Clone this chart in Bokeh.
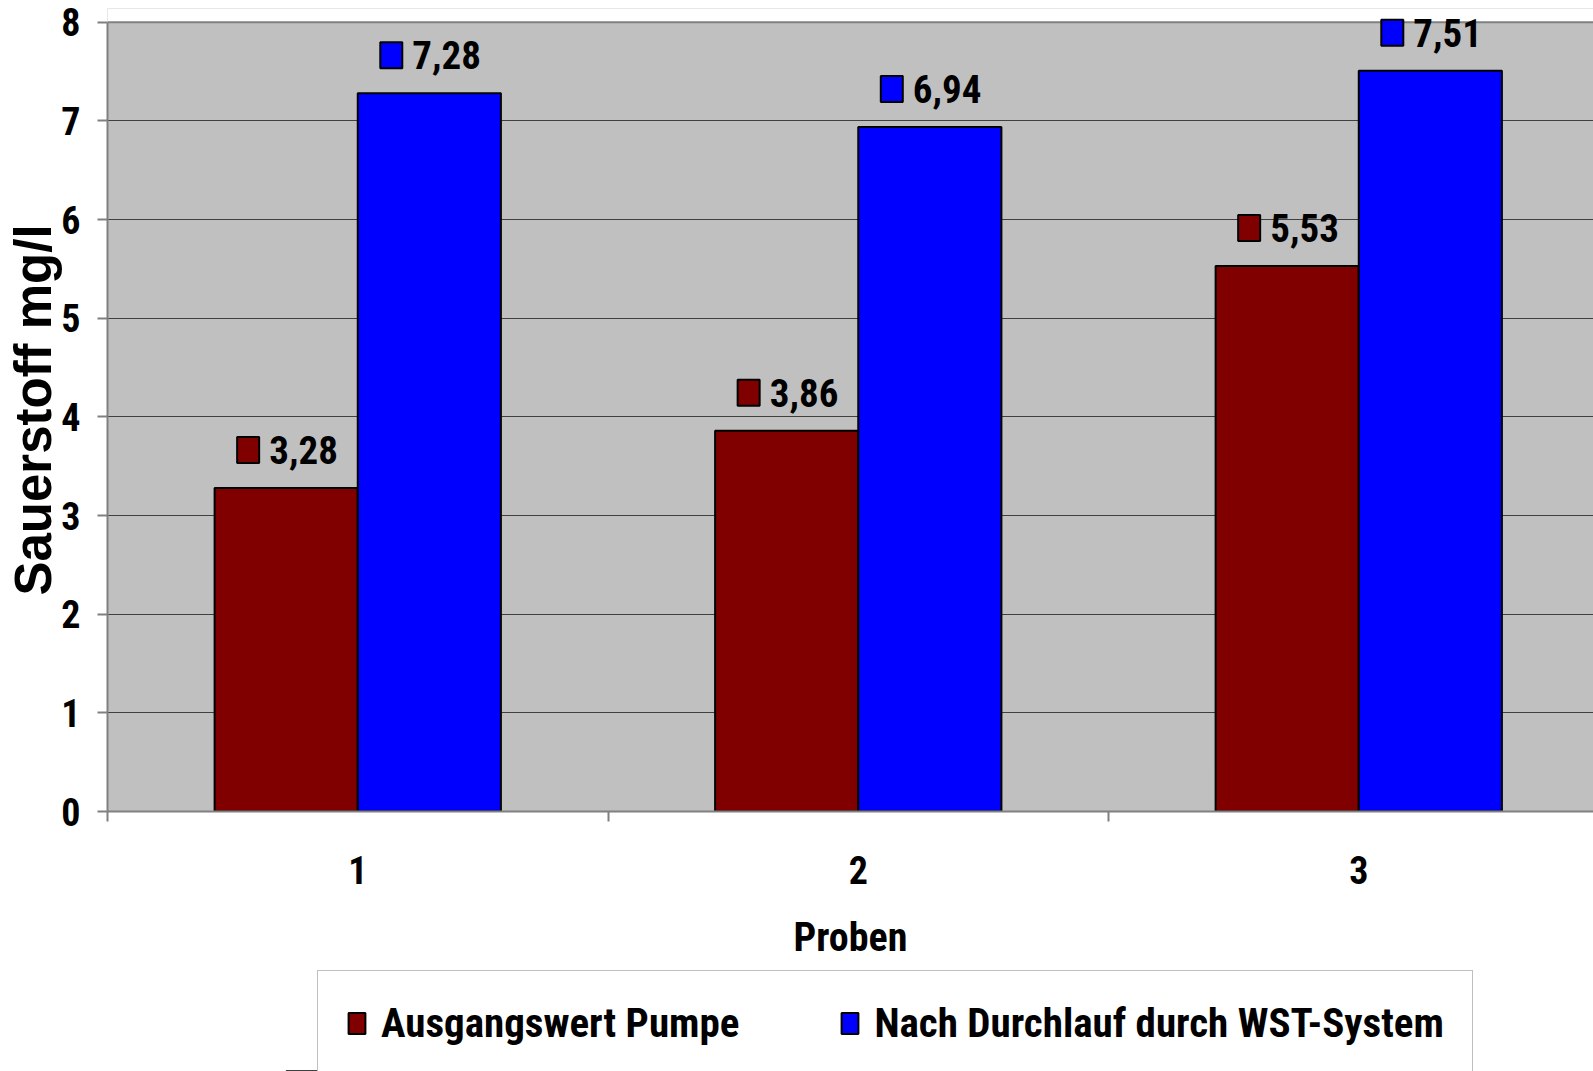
from bokeh.plotting import figure
from bokeh.layouts import column
from bokeh.models import (Range1d, FixedTicker, Legend, LegendItem, ColumnDataSource,
                          BoxAnnotation, Span)
from bokeh.transform import dodge
from bokeh.core.properties import value
from bokeh.embed import file_html
from bokeh.resources import INLINE

# ---- data ----
categories = ["1", "2", "3"]
series_names = ["Ausgangswert Pumpe", "Nach Durchlauf durch WST-System"]
pumpe = [3.28, 3.86, 5.53]
wst = [7.28, 6.94, 7.51]
colors = ["#800000", "#0000FF"]
y_ticks = [0, 1, 2, 3, 4, 5, 6, 7, 8]
y_max = 8
x_title = "Proben"
y_title = "Sauerstoff mg/l"

NARROW = "'Roboto Condensed', 'Liberation Sans Narrow', sans-serif"
WIDE = "'Liberation Sans', Arial, sans-serif"


def fmt(v):
    return f"{v:.2f}".replace(".", ",")


centers = [i + 0.5 for i in range(len(categories))]
BAR_W = 0.286
LBL_DY = 0.385  # label centre above bar top (data units)

source = ColumnDataSource(dict(
    x=centers,
    pumpe=pumpe,
    wst=wst,
    pumpe_lbl=[fmt(v) for v in pumpe],
    wst_lbl=[fmt(v) for v in wst],
    pumpe_ly=[v + LBL_DY for v in pumpe],
    wst_ly=[v + LBL_DY for v in wst],
))

W = 1593
H_MAIN = 970
H_LEG = 101
LEFT = 107

p = figure(width=W, height=H_MAIN,
           x_range=Range1d(0, 2.969), y_range=Range1d(0, y_max + 0.14),
           output_backend="svg", toolbar_location=None,
           min_border_left=LEFT, min_border_right=0,
           min_border_top=8, min_border_bottom=H_MAIN - 811,
           background_fill_color="#C0C0C0", border_fill_color="white",
           outline_line_color=None)

# white strip above the plot area (labels may reach above the top border)
p.add_layout(BoxAnnotation(bottom=y_max, fill_color="white", fill_alpha=1,
                           line_color=None, level="underlay"))
p.add_layout(Span(location=y_max, dimension="width", line_color="#808080",
                  line_width=2, level="underlay"))

r1 = p.vbar(x=dodge("x", -BAR_W / 2), top="pumpe", width=BAR_W, source=source,
            fill_color=colors[0], line_color="black", line_width=2)
r2 = p.vbar(x=dodge("x", BAR_W / 2), top="wst", width=BAR_W, source=source,
            fill_color=colors[1], line_color="black", line_width=2)

# data labels: key square + value
for col, lbl, ly, c in [("pumpe", "pumpe_lbl", "pumpe_ly", colors[0]),
                        ("wst", "wst_lbl", "wst_ly", colors[1])]:
    off = -BAR_W / 2 if col == "pumpe" else BAR_W / 2
    p.rect(x=dodge("x", off - 0.076), y=ly, width=22, height=26,
           width_units="screen", height_units="screen", source=source,
           fill_color=c, line_color="black", line_width=2)
    p.text(x=dodge("x", off), y=ly, text=lbl, source=source,
           x_offset=-17, text_align="left", text_baseline="middle",
           text_font=value(NARROW), text_font_style="bold",
           text_font_size="39px", text_color="black")

# y axis
yax = p.yaxis[0]
yax.ticker = FixedTicker(ticks=y_ticks)
yax.bounds = (0, y_max)
yax.major_label_text_font = NARROW
yax.major_label_text_font_style = "bold"
yax.major_label_text_font_size = "38px"
yax.major_label_text_color = "black"
yax.major_tick_out = 10
yax.major_tick_in = 0
yax.minor_tick_out = 0
yax.minor_tick_in = 0
yax.major_label_standoff = 17
yax.axis_line_color = "#808080"
yax.axis_line_width = 2
yax.major_tick_line_color = "#808080"
yax.major_tick_line_width = 2
yax.axis_label = y_title
yax.axis_label_text_font = WIDE
yax.axis_label_text_font_style = "bold"
yax.axis_label_text_font_size = "51px"
yax.axis_label_text_color = "black"
yax.axis_label_standoff = -4

# x axis
xax = p.xaxis[0]
xax.ticker = FixedTicker(ticks=centers, minor_ticks=list(range(len(categories) + 1)))
xax.major_label_overrides = {c: cat for c, cat in zip(centers, categories)}
xax.major_label_text_font = NARROW
xax.major_label_text_font_style = "bold"
xax.major_label_text_font_size = "38px"
xax.major_label_text_color = "black"
xax.major_tick_out = 0
xax.major_tick_in = 0
xax.minor_tick_out = 10
xax.minor_tick_in = 0
xax.minor_tick_line_color = "#808080"
xax.minor_tick_line_width = 2
xax.major_label_standoff = 34
xax.axis_line_color = "#808080"
xax.axis_line_width = 2
xax.axis_label = x_title
xax.axis_label_text_font = NARROW
xax.axis_label_text_font_style = "bold"
xax.axis_label_text_font_size = "40px"
xax.axis_label_text_color = "black"
xax.axis_label_standoff = 27

p.xgrid.visible = False
p.ygrid.ticker = FixedTicker(ticks=y_ticks[1:-1])
p.ygrid.grid_line_color = "#404040"
p.ygrid.grid_line_width = 1

# ---- legend strip ----
pl = figure(width=W, height=H_LEG, x_range=Range1d(0, 2.969), y_range=Range1d(100, 101),
            output_backend="svg", toolbar_location=None,
            x_axis_location=None, y_axis_location=None,
            min_border_left=LEFT, min_border_right=0,
            min_border_top=0, min_border_bottom=0,
            background_fill_color="white", border_fill_color="white",
            outline_line_color=None)
pl.grid.visible = False
# same bars (outside this strip's visible range) only to supply legend swatches
lr1 = pl.vbar(x="x", top="pumpe", width=BAR_W, source=source,
              fill_color=colors[0], line_color="black", line_width=2)
lr2 = pl.vbar(x="x", top="wst", width=BAR_W, source=source,
              fill_color=colors[1], line_color="black", line_width=2)

legend = Legend(items=[LegendItem(label=series_names[0], renderers=[lr1]),
                       LegendItem(label=series_names[1], renderers=[lr2])],
                orientation="horizontal", location=(210, -5),
                padding=28, margin=0, spacing=100, label_standoff=14,
                glyph_width=21, glyph_height=26,
                label_text_font=NARROW, label_text_font_style="bold",
                label_text_font_size="41px", label_text_color="black",
                border_line_color="#808080", border_line_width=1.5,
                background_fill_color="white", background_fill_alpha=1)
pl.add_layout(legend)

layout = column(p, pl, spacing=0)
open("out.html", "w").write(file_html(layout, INLINE))
